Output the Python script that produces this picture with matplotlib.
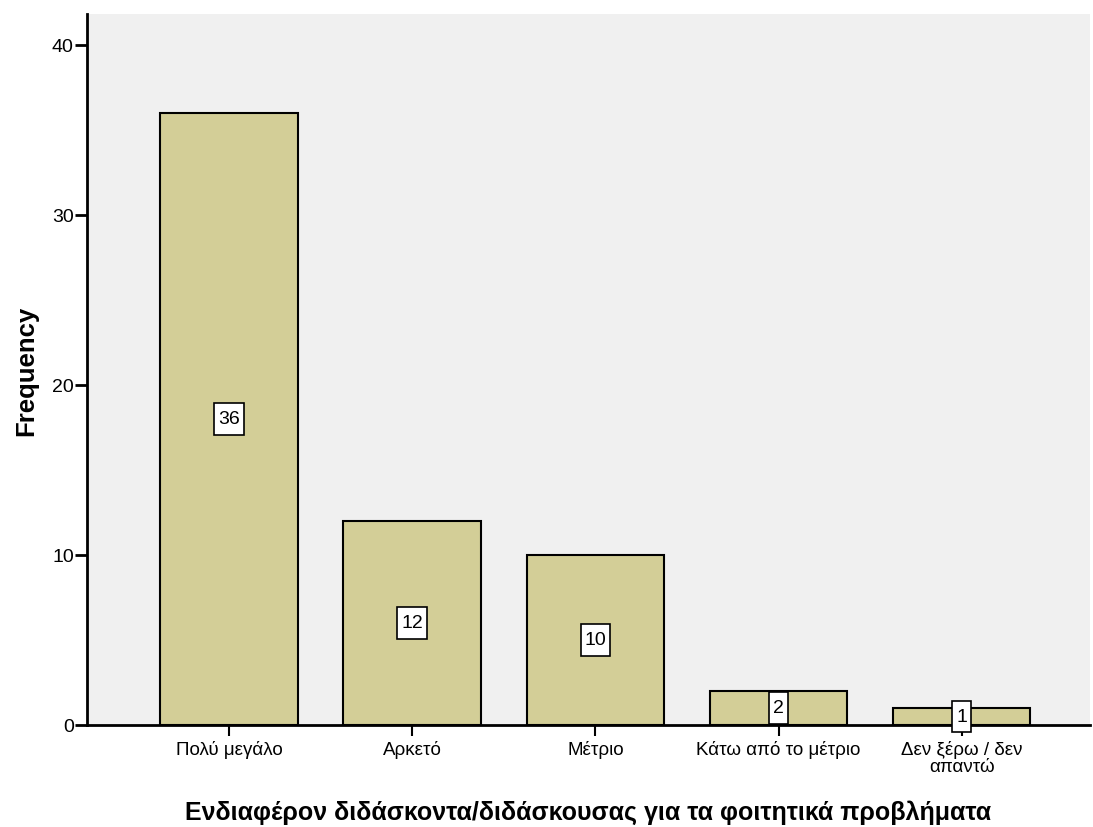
import matplotlib
matplotlib.use("Agg")
import matplotlib.pyplot as plt
from matplotlib.path import Path

categories = ["Πολύ μεγάλο", "Αρκετό", "Μέτριο", "Κάτω από το μέτριο", "Δεν ξέρω / δεν\nαπαντώ"]
values = [36, 12, 10, 2, 1]
yticks = [0, 10, 20, 30, 40]

plt.rcParams['font.family'] = ['Liberation Sans', 'DejaVu Sans']


def label_box(x0, y0, width, height, mutation_size):
    px = 0.2 * mutation_size
    py = 0.38 * mutation_size
    x0, y0 = x0 - px, y0 - py
    x1, y1 = x0 + width + 2 * px, y0 + height + 2 * py
    return Path([(x0, y0), (x1, y0), (x1, y1), (x0, y1), (x0, y0)], closed=True)


fig = plt.figure(figsize=(10.93, 8.28), dpi=100)
ax = fig.add_axes([87/1093, (828-726)/828, (1090-87)/1093, (726-15)/828])
ax.set_facecolor('#F0F0F0')

x = list(range(len(categories)))
ax.bar(x, values, width=0.75, color='#D3CE97', edgecolor='black', linewidth=1.5, zorder=2)

for xi, v in zip(x, values):
    ax.text(xi, v/2, str(v), ha='center', va='center', fontsize=14, zorder=3,
            bbox=dict(boxstyle=label_box, facecolor='white', edgecolor='black', linewidth=1.2))

ax.set_xlim(-0.775, 4.7)
ax.set_ylim(0, 41.8)
ax.set_yticks(yticks)
ax.set_xticks(x)
ax.set_xticklabels(categories, fontsize=13.5, linespacing=0.95)
ax.tick_params(axis='y', labelsize=14, length=9, width=2, direction='out', pad=0.5)
ax.tick_params(axis='x', length=8, width=1.5, direction='out', pad=3)

for s in ['top', 'right']:
    ax.spines[s].set_visible(False)
for s in ['left', 'bottom']:
    ax.spines[s].set_linewidth(2)

ax.set_ylabel('Frequency', fontsize=18.5, fontweight='bold', labelpad=10)
ax.set_xlabel('Ενδιαφέρον διδάσκοντα/διδάσκουσας για τα φοιτητικά προβλήματα', fontsize=18, fontweight='bold', labelpad=18)

fig.savefig('out.png', dpi=100)
